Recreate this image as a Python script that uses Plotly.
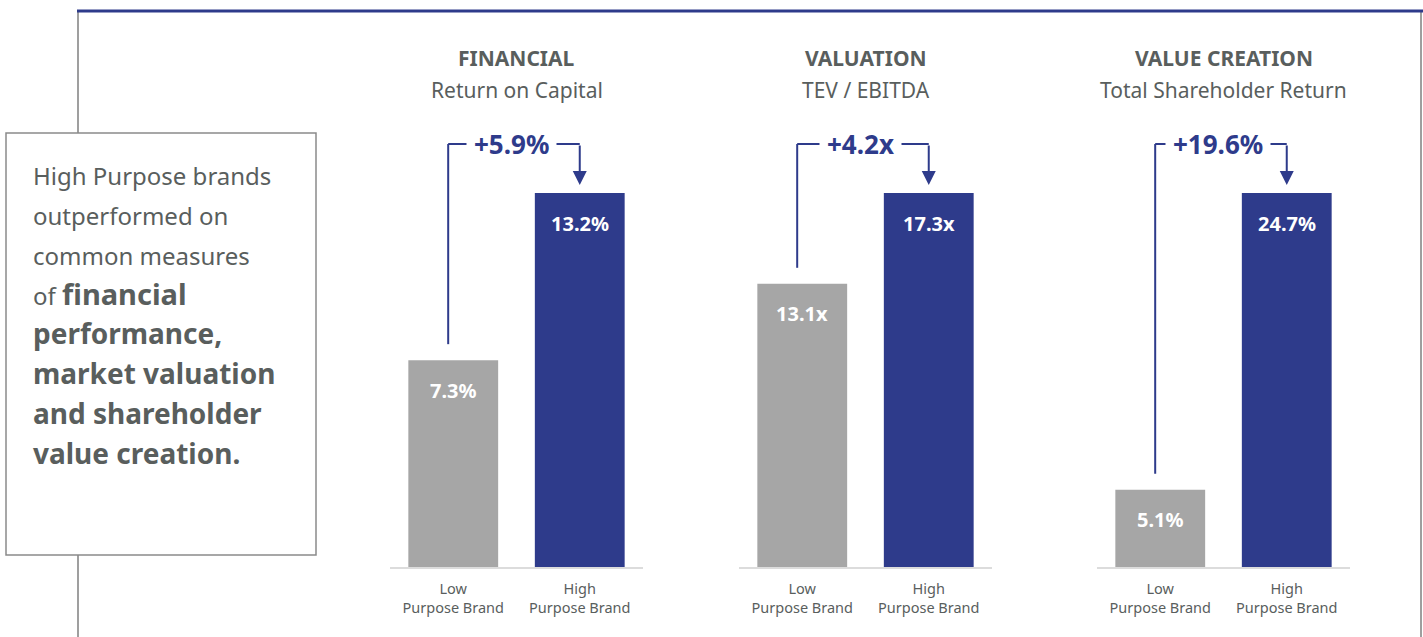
import plotly.graph_objects as go

# ---- data ----
panel_titles = ["FINANCIAL", "VALUATION", "VALUE CREATION"]
panel_subtitles = ["Return on Capital", "TEV / EBITDA", "Total Shareholder Return"]
categories = ["Low<br>Purpose Brand", "High<br>Purpose Brand"]
low_values = [7.3, 13.1, 5.1]
high_values = [13.2, 17.3, 24.7]
value_suffix = ["%", "x", "%"]
diff_labels = ["+5.9%", "+4.2x", "+19.6%"]

side_lines = [
    "High Purpose brands",
    "outperformed on",
    "common measures",
    "of <span style='font-size:29px'><b>financial</b></span>",
    "<b>performance,</b>",
    "<b>market valuation</b>",
    "<b>and shareholder</b>",
    "<b>value creation.</b>",
]

# ---- layout constants (pixels) ----
W, H = 1423, 637
NAVY = "#2e3b8b"
GREY_BAR = "#a6a6a6"
TEXT = "#595e5d"
FONT = "Noto Sans"
BASE_PX, TOP_PX, BAR_PX = 567, 120, 374
panel_x = [(390, 643), (739, 992), (1097, 1350)]


def px_x(p):
    return p / W


def px_y(p):
    return 1 - p / H


fig = go.Figure()

for i in range(3):
    n = "" if i == 0 else str(i + 1)
    high = high_values[i]
    low = low_values[i]
    u = high / BAR_PX  # data units per pixel
    xa, ya = "x" + n, "y" + n

    fig.add_trace(go.Bar(
        x=[0, 1], y=[low, high],
        marker=dict(color=[GREY_BAR, NAVY], line_width=0),
        width=0.71, xaxis=xa, yaxis=ya, hoverinfo="skip",
    ))

    fig.layout["xaxis" + n] = dict(
        domain=[px_x(panel_x[i][0]), px_x(panel_x[i][1])],
        anchor=ya, range=[-0.5, 1.5], tickvals=[0, 1], ticktext=categories,
        showgrid=False, zeroline=False, showline=True, linecolor="#dcdcdc",
        linewidth=2, ticks="", ticklabelstandoff=8,
        tickfont=dict(family=FONT, size=14.5, color=TEXT),
        fixedrange=True,
    )
    fig.layout["yaxis" + n] = dict(
        domain=[px_y(BASE_PX), px_y(TOP_PX)], anchor=xa,
        range=[0, high * (BASE_PX - TOP_PX) / BAR_PX],
        visible=False, fixedrange=True,
    )

    # value labels inside bars
    for j, v in enumerate([low, high]):
        fig.add_annotation(
            x=j, y=v, xref=xa, yref=ya, yshift=-30, showarrow=False,
            text=f"<b>{v:.1f}{value_suffix[i]}</b>",
            font=dict(family=FONT, size=20, color="white"),
        )

    # bracket showing the difference
    top = high + 49 * u
    fig.add_shape(type="line", xref=xa, yref=ya, x0=-0.04, x1=-0.04,
                  y0=low + 16 * u, y1=top, line=dict(color=NAVY, width=2))
    fig.add_shape(type="line", xref=xa, yref=ya, x0=-0.04, x1=1.0,
                  y0=top, y1=top, line=dict(color=NAVY, width=2))
    fig.add_annotation(
        x=1, y=high, xref=xa, yref=ya, ax=0, ay=-49, showarrow=True,
        arrowhead=2, arrowsize=1.4, arrowwidth=2, arrowcolor=NAVY,
        standoff=8, text="",
    )
    fig.add_annotation(
        x=0.46, y=top, xref=xa, yref=ya, showarrow=False,
        text=f"<b>{diff_labels[i]}</b>", bgcolor="white", borderpad=7,
        font=dict(family=FONT, size=26, color=NAVY),
    )

    # panel titles
    cx = px_x((panel_x[i][0] + panel_x[i][1]) / 2)
    fig.add_annotation(x=cx, y=px_y(58), xref="paper", yref="paper",
                       xanchor="center", yanchor="middle",
                       showarrow=False, text=f"<b>{panel_titles[i]}</b>",
                       font=dict(family=FONT, size=21, color=TEXT))
    fig.add_annotation(x=cx, y=px_y(90), xref="paper", yref="paper",
                       xanchor="center", yanchor="middle",
                       showarrow=False, text=panel_subtitles[i],
                       font=dict(family=FONT, size=21, color=TEXT))

# frame and side box
fig.add_shape(type="line", xref="paper", yref="paper", x0=px_x(78), x1=px_x(78),
              y0=px_y(11), y1=0, line=dict(color="#7f7f7f", width=1.5), layer="below")
fig.add_shape(type="line", xref="paper", yref="paper", x0=px_x(1421), x1=px_x(1421),
              y0=px_y(11), y1=0, line=dict(color="#7f7f7f", width=1.5), layer="below")
fig.add_shape(type="line", xref="paper", yref="paper", x0=px_x(77), x1=1,
              y0=px_y(11), y1=px_y(11), line=dict(color=NAVY, width=3))
fig.add_shape(type="rect", xref="paper", yref="paper", x0=px_x(6), x1=px_x(316),
              y0=px_y(555), y1=px_y(133), fillcolor="white",
              line=dict(color="#8a8a8a", width=1.5))

line_px = [175, 215, 255, 293, 333, 373, 413, 453]
for k, t in enumerate(side_lines):
    fig.add_annotation(
        x=px_x(31), y=px_y(line_px[k]), xref="paper", yref="paper",
        xanchor="left", yanchor="middle", showarrow=False, text=t, align="left",
        font=dict(family=FONT, size=24 if k < 4 else 28, color=TEXT),
    )

fig.update_layout(
    width=W, height=H, margin=dict(l=0, r=0, t=0, b=0),
    paper_bgcolor="white", plot_bgcolor="white", showlegend=False,
    font=dict(family=FONT, color=TEXT),
)

fig.write_html("out.html", config={"displayModeBar": False},
               post_script="document.body.style.margin='0';")
